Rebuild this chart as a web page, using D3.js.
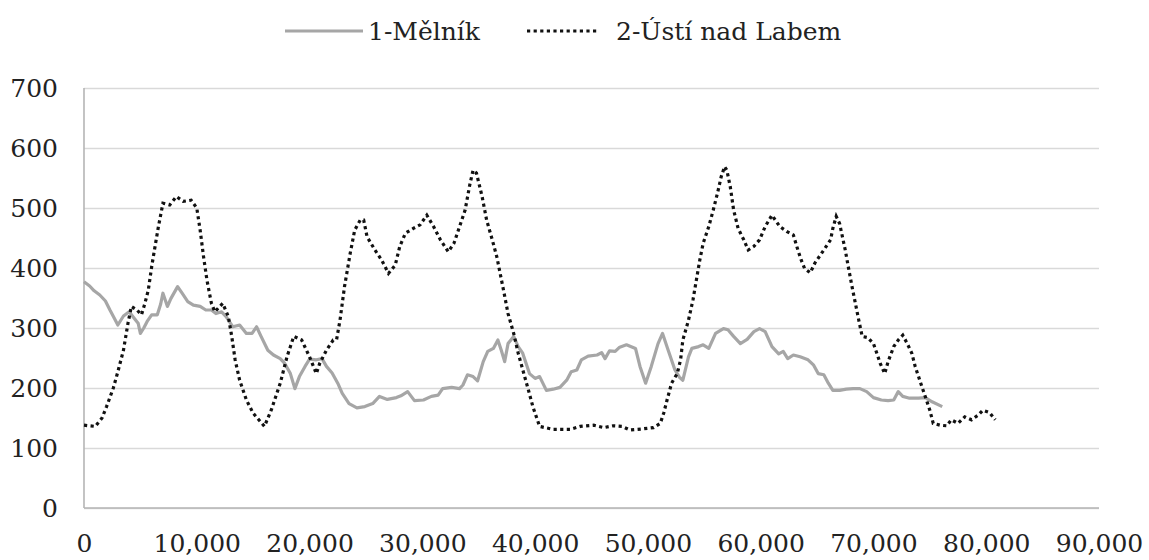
<!DOCTYPE html>
<html>
<head>
<meta charset="utf-8">
<script src="https://cdn.jsdelivr.net/npm/d3@7"></script>
<style>
  html, body { margin: 0; padding: 0; background: #fff; }
  svg { display: block; }
</style>
</head>
<body>
<svg id="chart" width="1149" height="560"></svg>
<script>
// Series names
const seriesNames = ["1-Mělník", "2-Ústí nad Labem"];

// 1-Mělník: distance and value
const melnikX = [0,500,900,1400,1900,2300,2700,3000,3500,4000,
  4500,4800,5000,5300,5600,6000,6500,6800,7000,7400,
  7700,8300,8700,9200,9700,10300,10800,11300,11700,12200,
  12600,13200,13800,14400,14900,15300,15700,16300,16800,17400,
  17800,18300,18700,19100,19600,20000,20600,21100,21500,22000,
  22500,22900,23500,24200,24900,25600,26200,26900,27700,28100,
  28700,29300,30100,30800,31400,31800,32600,33300,33600,34000,
  34500,34900,35400,35800,36300,36700,37000,37300,37600,38100,
  38500,38900,39500,40000,40400,41000,41600,42200,42800,43200,
  43700,44100,44700,45500,45900,46200,46600,47100,47500,48100,
  48900,49300,49800,50300,50900,51300,51800,52400,52800,53100,
  53600,53900,54500,54900,55400,56000,56700,57100,57600,58200,
  58800,59400,59900,60400,61000,61600,62000,62400,62900,63500,
  64200,64700,65100,65600,66000,66400,67000,67600,68200,68800,
  69400,70000,70700,71300,71800,72200,72600,73200,74000,74600,
  75200,76100];
const melnikY = [377,370,362,355,345,330,316,305,320,327,
  315,308,291,300,311,322,322,340,358,336,
  349,369,358,344,338,336,330,330,324,327,
  319,302,305,291,291,302,286,263,255,249,
  241,224,199,219,236,248,247,249,236,225,
  208,191,174,167,169,174,186,181,184,187,
  194,179,180,186,188,199,201,199,205,222,
  219,212,244,261,266,280,263,244,274,286,
  269,258,224,216,219,196,198,201,213,227,
  230,247,253,255,259,249,262,261,268,272,
  266,236,208,236,274,291,263,230,218,213,
  252,266,269,272,266,291,299,297,286,274,
  281,294,299,294,269,257,261,249,255,252,
  247,238,224,222,208,196,196,198,199,199,
  194,184,180,179,180,194,186,183,183,184,
  177,169];

// 2-Ústí nad Labem: distance and value
const ustiX = [0,1000,1600,2000,2600,3000,3500,3900,4200,4700,
  5100,5400,5700,6000,6300,6600,7000,7600,8200,8800,
  9500,10000,10300,10600,10900,11300,11600,12300,12800,13100,
  13400,13800,14400,15000,16000,16600,17400,18000,18600,19300,
  20000,20600,20900,21500,22100,22400,22700,23100,23600,24000,
  24500,24800,25100,25800,26400,27000,27600,28000,28500,29200,
  29800,30400,31000,31600,32300,32800,33300,33800,34200,34500,
  34800,35300,35700,36200,36600,36900,37200,37600,38100,38500,
  39000,39400,39800,40400,41600,43100,44000,45200,46100,46900,
  47700,48400,49600,50500,51100,51400,51700,52100,52600,52900,
  53100,53600,54000,54300,54600,54900,55400,55800,56200,56500,
  56800,57000,57300,57600,58000,58500,58900,59400,59900,60400,
  61000,61700,62300,62900,63300,63600,63900,64400,64800,65600,
  66200,66400,66700,67000,67500,67800,68100,68400,68700,69000,
  69500,70000,70300,70600,71000,71300,71800,72200,72600,73000,
  73400,73700,74000,74300,74700,75000,75300,75900,76500,76900,
  77500,78100,78700,79300,79700,80300,80800];
const ustiY = [138,136,150,169,200,227,263,308,336,330,
  322,341,363,402,436,469,508,505,519,511,
  513,500,463,419,380,341,327,341,319,286,
  247,213,180,158,136,163,208,252,286,280,
  252,224,241,263,280,281,313,369,424,463,
  480,480,452,430,413,391,405,436,458,466,
  472,488,469,447,427,441,469,497,538,563,
  558,519,480,447,419,391,363,324,291,258,
  224,197,169,136,131,131,136,138,134,137,
  136,130,132,134,141,158,180,208,224,247,
  280,313,347,380,413,441,469,497,527,552,
  569,563,536,497,466,447,430,436,447,469,
  488,469,461,455,430,413,399,392,408,430,
  447,466,486,474,430,399,369,341,313,286,
  284,274,258,241,224,244,269,280,288,274,
  258,236,219,202,180,163,141,138,137,147,
  141,152,147,155,163,159,147];

// Axis ticks
const xTicks = [0,10000,20000,30000,40000,50000,60000,70000,80000,90000];
const yTicks = [0,100,200,300,400,500,600,700];

const FONT_FAMILY = "'DejaVu Serif', 'Liberation Serif', serif";
const FONT = 25;

const svg = d3.select("#chart");
const plot = { left: 84, right: 1099, top: 88, bottom: 508 };

const x = d3.scaleLinear().domain([0, 90000]).range([plot.left, plot.right]);
const y = d3.scaleLinear().domain([0, 700]).range([plot.bottom, plot.top]);

// Horizontal gridlines + y labels
const yAxis = svg.append("g")
  .attr("transform", `translate(${plot.left},0)`)
  .call(d3.axisLeft(y).tickValues(yTicks).tickSize(-(plot.right - plot.left)).tickPadding(26).tickFormat(d3.format("d")));
yAxis.attr("font-family", FONT_FAMILY).attr("font-size", FONT);
yAxis.select(".domain").remove();
yAxis.selectAll(".tick line").attr("stroke", "#d9d9d9").attr("stroke-width", 1.6);
yAxis.selectAll(".tick text").attr("fill", "#222");

// x labels
const xAxis = svg.append("g")
  .attr("transform", `translate(0,${plot.bottom})`)
  .call(d3.axisBottom(x).tickValues(xTicks).tickSize(0).tickPadding(26).tickFormat(d3.format(",")));
xAxis.attr("font-family", FONT_FAMILY).attr("font-size", FONT);
xAxis.select(".domain").remove();
xAxis.selectAll(".tick text").attr("fill", "#222");

// Axis lines
svg.append("line")
  .attr("x1", plot.left).attr("x2", plot.left)
  .attr("y1", y(700)).attr("y2", y(0))
  .attr("stroke", "#b5b5b5").attr("stroke-width", 1.6);
svg.append("line")
  .attr("x1", plot.left).attr("x2", plot.right)
  .attr("y1", y(0)).attr("y2", y(0))
  .attr("stroke", "#b5b5b5").attr("stroke-width", 1.6);

const line = d3.line().x(d => x(d[0])).y(d => y(d[1]));

const melnik = d3.zip(melnikX, melnikY);
const usti = d3.zip(ustiX, ustiY);

svg.append("path").datum(melnik)
  .attr("d", line)
  .attr("fill", "none")
  .attr("stroke", "#a6a6a6")
  .attr("stroke-width", 3.2)
  .attr("stroke-linejoin", "round");

svg.append("path").datum(usti)
  .attr("d", line)
  .attr("fill", "none")
  .attr("stroke", "#111")
  .attr("stroke-width", 3.2)
  .attr("stroke-dasharray", "3.2 3.4");

// Legend
const legendY = 31;
const leg = svg.append("g").attr("font-family", FONT_FAMILY).attr("font-size", FONT).attr("fill", "#222");
leg.append("line").attr("x1", 285).attr("x2", 363).attr("y1", legendY).attr("y2", legendY)
  .attr("stroke", "#a6a6a6").attr("stroke-width", 3.2);
leg.append("text").attr("x", 368).attr("y", legendY).attr("dy", "0.35em")
  .text(seriesNames[0]);
leg.append("line").attr("x1", 527).attr("x2", 597).attr("y1", legendY).attr("y2", legendY)
  .attr("stroke", "#111").attr("stroke-width", 3.2).attr("stroke-dasharray", "3.2 3.4");
leg.append("text").attr("x", 616).attr("y", legendY).attr("dy", "0.35em")
  .text(seriesNames[1]);
</script>
</body>
</html>
